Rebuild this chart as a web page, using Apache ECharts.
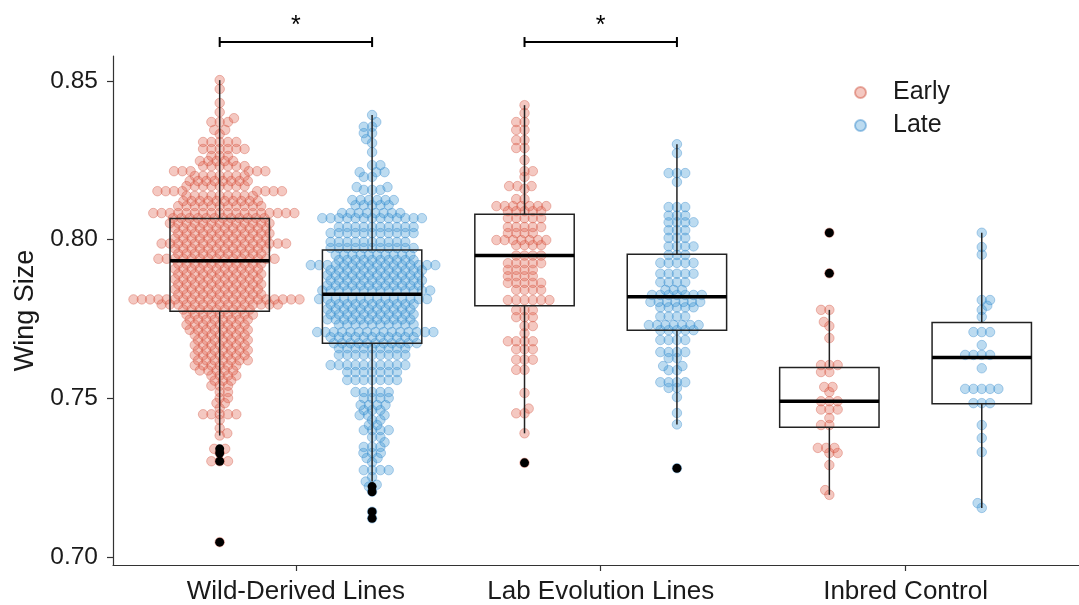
<!DOCTYPE html>
<html><head><meta charset="utf-8">
<script src="https://cdn.jsdelivr.net/npm/echarts@6/dist/echarts.min.js"></script>
<style>html,body{margin:0;padding:0;background:#fff}#c{width:1079px;height:605px}</style>
</head><body><div id="c"></div>
<script>
const groups = ['Wild-Derived Lines', 'Lab Evolution Lines', 'Inbred Control'];
const periods = ['Early', 'Late'];
const yTicks = [0.70, 0.75, 0.80, 0.85];

// [wing size value, number of flies at that value]
const wildEarly = [[0.8503,1],[0.8475,1],[0.8431,1],[0.8402,1],[0.8383,1],[0.8371,3],[0.8346,2],[0.8333,1],[0.8308,5],[0.8286,6],[0.8264,3],[0.8248,5],[0.8232,6],[0.8216,6],[0.8201,7],[0.8185,8],[0.8169,8],[0.8153,8],[0.8138,9],[0.8122,10],[0.8106,11],[0.8084,18],[0.8068,12],[0.8052,13],[0.8036,12],[0.8020,12],[0.8004,12],[0.7988,16],[0.7972,12],[0.7956,11],[0.7940,15],[0.7924,11],[0.7908,11],[0.7892,11],[0.7876,11],[0.7860,11],[0.7844,11],[0.7828,11],[0.7812,21],[0.7796,15],[0.7780,9],[0.7764,9],[0.7748,8],[0.7732,8],[0.7716,8],[0.7700,7],[0.7684,7],[0.7668,7],[0.7652,7],[0.7636,7],[0.7620,7],[0.7604,6],[0.7588,5],[0.7572,4],[0.7556,3],[0.7540,3],[0.7520,2],[0.7501,2],[0.7485,2],[0.7469,1],[0.7450,5],[0.7432,1],[0.7406,1],[0.7390,1],[0.7383,1],[0.7341,2],[0.7328,1],[0.7302,3],[0.7047,1]];
const wildLate = [[0.8393,1],[0.8371,1],[0.8356,2],[0.8336,2],[0.8317,1],[0.8305,1],[0.8276,1],[0.8235,2],[0.8213,3],[0.8198,2],[0.8166,2],[0.8157,3],[0.8125,6],[0.8109,5],[0.8084,8],[0.8068,13],[0.8040,10],[0.8021,11],[0.7993,10],[0.7974,11],[0.7952,10],[0.7936,10],[0.7920,16],[0.7904,12],[0.7888,12],[0.7872,12],[0.7856,12],[0.7840,14],[0.7813,14],[0.7797,11],[0.7781,11],[0.7765,11],[0.7749,11],[0.7733,10],[0.7709,15],[0.7693,11],[0.7674,11],[0.7658,9],[0.7637,9],[0.7605,10],[0.7583,7],[0.7558,7],[0.7520,5],[0.7501,4],[0.7479,4],[0.7463,3],[0.7447,3],[0.7432,2],[0.7416,2],[0.7400,4],[0.7378,2],[0.7362,1],[0.7347,3],[0.7328,3],[0.7312,2],[0.7299,1],[0.7274,4],[0.7252,1],[0.7238,1],[0.7228,1],[0.7222,1],[0.7206,1],[0.7143,1],[0.7122,1]];
const labEarly = [[0.8424,1],[0.8399,1],[0.8371,2],[0.8346,2],[0.8314,2],[0.8289,2],[0.8251,1],[0.8216,2],[0.8198,1],[0.8169,3],[0.8160,1],[0.8128,2],[0.8106,7],[0.8090,5],[0.8068,5],[0.8040,5],[0.8021,4],[0.7999,7],[0.7983,4],[0.7950,4],[0.7926,5],[0.7905,4],[0.7885,4],[0.7864,5],[0.7842,4],[0.7810,6],[0.7778,3],[0.7756,3],[0.7728,2],[0.7705,1],[0.7680,4],[0.7655,3],[0.7622,3],[0.7590,2],[0.7517,1],[0.7468,1],[0.7453,2],[0.7390,1],[0.7297,1]];
const labLate = [[0.8301,1],[0.8273,1],[0.8210,3],[0.8182,1],[0.8103,3],[0.8076,3],[0.8055,4],[0.8030,3],[0.8006,3],[0.7979,4],[0.7952,3],[0.7927,5],[0.7893,5],[0.7866,4],[0.7842,3],[0.7826,7],[0.7804,7],[0.7787,5],[0.7758,4],[0.7731,7],[0.7715,5],[0.7684,4],[0.7646,4],[0.7627,2],[0.7602,2],[0.7589,2],[0.7551,4],[0.7533,2],[0.7504,1],[0.7454,1],[0.7418,1],[0.7280,1]];
const inbredEarly = [[0.8022,1],[0.7894,1],[0.7779,2],[0.7741,1],[0.7728,1],[0.7690,1],[0.7605,3],[0.7583,2],[0.7536,2],[0.7520,1],[0.7491,3],[0.7465,3],[0.7438,1],[0.7416,2],[0.7344,3],[0.7328,2],[0.7290,1],[0.7211,1],[0.7196,1]];
const inbredLate = [[0.8022,1],[0.7977,1],[0.7953,1],[0.7810,2],[0.7792,1],[0.7779,1],[0.7757,1],[0.7709,3],[0.7668,1],[0.7637,4],[0.7595,1],[0.7530,5],[0.7485,3],[0.7416,1],[0.7375,1],[0.7331,1],[0.7170,1],[0.7155,1]];

// box stats: [lower whisker, Q1, median, Q3, upper whisker]
const boxWildEarly = [0.7383, 0.7775, 0.7934, 0.8067, 0.8503];
const boxWildLate = [0.7238, 0.7674, 0.7828, 0.7968, 0.8393];
const boxLabEarly = [0.7390, 0.7792, 0.7950, 0.8080, 0.8424];
const boxLabLate = [0.7418, 0.7715, 0.7820, 0.7954, 0.8301];
const boxInbredEarly = [0.7196, 0.7409, 0.7491, 0.7597, 0.7779];
const boxInbredLate = [0.7155, 0.7483, 0.7629, 0.7739, 0.8022];

const outWildEarly = [0.7341, 0.7328, 0.7302, 0.7047];
const outWildLate = [0.7222, 0.7206, 0.7143, 0.7122];
const outLabEarly = [0.7297];
const outLabLate = [0.7280];
const outInbredEarly = [0.8022, 0.7894];
const outInbredLate = [];

// significance brackets: [group index, label]
const sigGroups = [1, 2];
const sigLabels = ['*', '*'];

const sets = [
  {g:1, p:'Early', pts:wildEarly, box:boxWildEarly, out:outWildEarly},
  {g:1, p:'Late', pts:wildLate, box:boxWildLate, out:outWildLate},
  {g:2, p:'Early', pts:labEarly, box:boxLabEarly, out:outLabEarly},
  {g:2, p:'Late', pts:labLate, box:boxLabLate, out:outLabLate},
  {g:3, p:'Early', pts:inbredEarly, box:boxInbredEarly, out:outInbredEarly},
  {g:3, p:'Late', pts:inbredLate, box:boxInbredLate, out:outInbredLate}
];
const DODGE = 0.25;
const BOX_HALF = 0.163;
const FONT = '"Liberation Sans", Arial, sans-serif';
const TXT = '#1a1a1a';
const xc = s => s.g + (s.p === 'Early' ? -DODGE : DODGE);

const chart = echarts.init(document.getElementById('c'));

function renderBox(params, api) {
  const x = api.value(0);
  const lo = api.coord([x, api.value(1)]);
  const q1 = api.coord([x, api.value(2)]);
  const md = api.coord([x, api.value(3)]);
  const q3 = api.coord([x, api.value(4)]);
  const hi = api.coord([x, api.value(5)]);
  const l = api.coord([x - BOX_HALF, api.value(3)])[0];
  const r = api.coord([x + BOX_HALF, api.value(3)])[0];
  const st = {stroke:'#222', lineWidth:1.5, fill:null};
  return {type:'group', children:[
    {type:'line', shape:{x1:lo[0], y1:lo[1], x2:q1[0], y2:q1[1]}, style:st},
    {type:'line', shape:{x1:q3[0], y1:q3[1], x2:hi[0], y2:hi[1]}, style:st},
    {type:'rect', shape:{x:l, y:q3[1], width:r - l, height:q1[1] - q3[1]}, style:{stroke:'#222', lineWidth:1.5, fill:'rgba(0,0,0,0)'}},
    {type:'line', shape:{x1:l, y1:md[1], x2:r, y2:md[1]}, style:{stroke:'#000', lineWidth:3.5}}
  ]};
}
function renderBracket(params, api) {
  const a = api.coord([api.value(0), api.value(2)]);
  const b = api.coord([api.value(1), api.value(2)]);
  const t = api.coord([(api.value(0) + api.value(1)) / 2, api.value(3)]);
  const st = {stroke:'#000', lineWidth:2};
  return {type:'group', children:[
    {type:'line', shape:{x1:a[0], y1:a[1], x2:b[0], y2:b[1]}, style:st},
    {type:'line', shape:{x1:a[0], y1:a[1]-5, x2:a[0], y2:a[1]+5}, style:st},
    {type:'line', shape:{x1:b[0], y1:b[1]-5, x2:b[0], y2:b[1]+5}, style:st},
    {type:'text', x:t[0], y:t[1], style:{text:sigLabels[params.dataIndex], fontSize:25, fontFamily:FONT, fill:'#000', align:'center', verticalAlign:'middle'}}
  ]};
}

const option = {
  animation:false,
  backgroundColor:'#fff',
  grid:{left:113, right:0, top:56, bottom:40},
  xAxis:{type:'value', min:0.4, max:3.569, splitLine:{show:false},
    axisLine:{lineStyle:{color:'#333', width:1.2}},
    axisTick:{customValues:[1,2,3], length:6, lineStyle:{color:'#333', width:1.2}},
    axisLabel:{customValues:[1,2,3], formatter:v => groups[Math.round(v)-1], fontSize:26, color:TXT, margin:14, fontFamily:FONT}},
  yAxis:{type:'value', min:0.6975, max:0.8579, splitLine:{show:false},
    axisLine:{show:true, lineStyle:{color:'#333', width:1.2}},
    axisTick:{show:true, customValues:yTicks, length:6, lineStyle:{color:'#333', width:1.2}},
    axisLabel:{customValues:yTicks, formatter:v => v.toFixed(2), fontSize:24.5, color:TXT, margin:15, fontFamily:FONT},
    name:'Wing Size', nameLocation:'middle', nameGap:72, nameTextStyle:{fontSize:27, color:TXT, fontFamily:FONT}},
  legend:{data:periods, orient:'vertical', left:849, top:75, itemWidth:11, itemHeight:11, itemGap:8, icon:'circle',
    textStyle:{fontSize:25, color:TXT, fontFamily:FONT, padding:[0,0,0,22]}},
  series:[]
};
chart.setOption(option);

// pixel scale of axes (for beeswarm offsets)
const p0 = chart.convertToPixel({gridIndex:0}, [1, 0.75]);
const p1 = chart.convertToPixel({gridIndex:0}, [2, 0.80]);
const pxX = (p1[0] - p0[0]) / 1;
const pxY = (p0[1] - p1[1]) / 0.05;
const DX = 8.3, DY = 5.5;

function swarm(vals) {
  const placed = [];
  const res = [];
  let side = 1;
  vals.forEach(v => {
    const y = v * pxY;
    const near = placed.filter(p => Math.abs(p.y - y) < DY);
    const cands = [0];
    near.forEach(p => {
      const t = (p.y - y) / DY;
      const dx = DX * Math.sqrt(1 - t*t);
      cands.push(p.x + dx, p.x - dx);
    });
    cands.sort((a, b) => (Math.abs(a) - Math.abs(b)) || (side * (b - a)));
    let best = 0;
    for (const c of cands) {
      if (near.every(p => ((p.x - c)/DX)**2 + ((p.y - y)/DY)**2 >= 1 - 1e-6)) { best = c; break; }
    }
    side = -side;
    placed.push({x:best, y});
    res.push([v, best]);
  });
  return res;
}

const pointData = {Early:[], Late:[]};
const outData = [];
const boxData = [];
sets.forEach(s => {
  const vals = [];
  s.pts.forEach(([v, n]) => { for (let i = 0; i < n; i++) vals.push(v); });
  vals.sort((a, b) => a - b);
  swarm(vals).forEach(([v, off]) => pointData[s.p].push([xc(s) + off / pxX, v]));
  s.out.forEach(v => outData.push([xc(s), v]));
  boxData.push([xc(s)].concat(s.box));
});
const bracketData = sigGroups.map(g => [g - DODGE, g + DODGE, 0.8623, 0.8673]);

chart.setOption({series:[
  {name:'Early', type:'scatter', data:pointData.Early, symbolSize:9.5, z:2,
    itemStyle:{color:'rgba(222,92,70,0.42)', borderColor:'rgba(205,75,55,0.55)', borderWidth:0.8}},
  {name:'Late', type:'scatter', data:pointData.Late, symbolSize:9.5, z:2,
    itemStyle:{color:'rgba(55,148,212,0.42)', borderColor:'rgba(40,130,200,0.55)', borderWidth:0.8}},
  {name:'box', type:'custom', data:boxData, renderItem:renderBox, encode:{x:0, y:[1,2,3,4,5]}, z:4},
  {name:'outliers', type:'scatter', data:outData, symbolSize:9, z:5, itemStyle:{color:'#000', opacity:1}},
  {name:'sig', type:'custom', data:bracketData, renderItem:renderBracket, encode:{x:[0,1], y:[2,3]}, clip:false, z:6}
]});
</script></body></html>
